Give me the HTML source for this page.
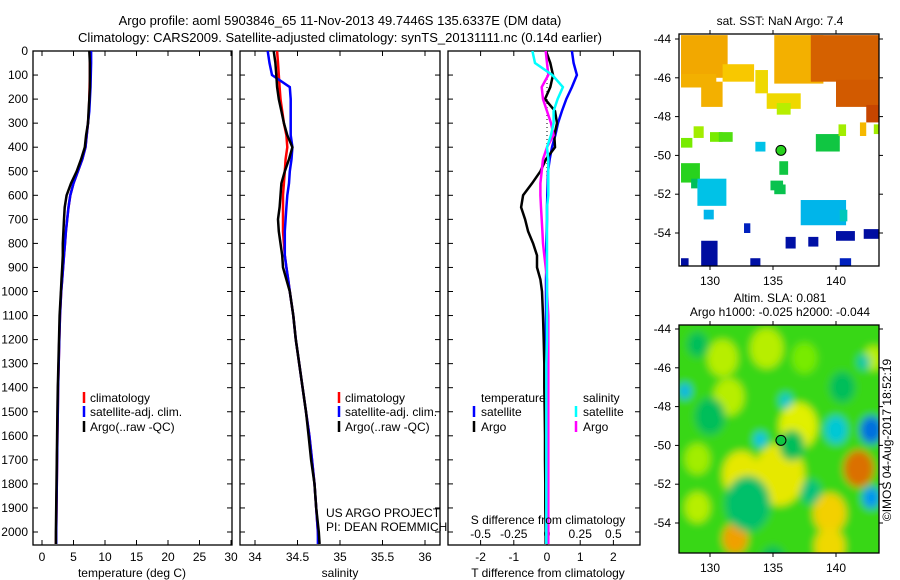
<!DOCTYPE html>
<html><head><meta charset="utf-8"><style>
body{margin:0;background:#fff;}
svg{display:block;font-family:"Liberation Sans",sans-serif;}
text{font-size:12px;fill:#000;}
</style></head><body>
<svg id="fig" width="900" height="580" viewBox="0 0 900 580" xmlns="http://www.w3.org/2000/svg">
<defs>
<clipPath id="c1"><rect x="33" y="51" width="199" height="494"/></clipPath>
<clipPath id="c2"><rect x="240" y="51" width="200" height="494"/></clipPath>
<clipPath id="c3"><rect x="448" y="51" width="192" height="494"/></clipPath>
<clipPath id="cm1"><rect x="679" y="34" width="200" height="232"/></clipPath>
<clipPath id="cm2"><rect x="679" y="325" width="200" height="228"/></clipPath>
<filter id="blur" x="-20%" y="-20%" width="140%" height="140%"><feGaussianBlur stdDeviation="4"/></filter>
</defs>
<text x="340" y="25" text-anchor="middle" style="font-size:13px">Argo profile: aoml 5903846_65 11-Nov-2013 49.7446S 135.6337E (DM data)</text>
<text x="340" y="42" text-anchor="middle" style="font-size:13px">Climatology: CARS2009. Satellite-adjusted climatology: synTS_20131111.nc (0.14d earlier)</text>
<g id="g1"></g>
<g id="g2"></g>
<g id="g3"></g>
<g id="m1"></g>
<g id="m2"></g>
<text x="780" y="25" text-anchor="middle">sat. SST: NaN Argo: 7.4</text>
<text x="780" y="302" text-anchor="middle">Altim. SLA: 0.081</text>
<text x="780" y="316" text-anchor="middle">Argo h1000: -0.025 h2000: -0.044</text>
<text transform="translate(891,440) rotate(-90)" text-anchor="middle">©IMOS 04-Aug-2017 18:52:19</text>
<text x="326" y="517">US ARGO PROJECT</text>
<text x="326" y="531">PI: DEAN ROEMMICH</text>
</svg>
<script>
// ---------- data ----------
const depthTicks=[0,100,200,300,400,500,600,700,800,900,1000,1100,1200,1300,1400,1500,1600,1700,1800,1900,2000];
const tempTicks=[0,5,10,15,20,25,30];
const salTicks=[34,34.5,35,35.5,36];
const tdiffTicks=[-2,-1,0,1,2];
const sdiffTicks=[-0.5,-0.25,0,0.25,0.5];
const sdiffTickLabels=["-0.5","-0.25","0","0.25","0.5"];
const profDepth=[0,50,100,150,200,250,300,350,400,450,500,550,600,650,700,750,800,850,900,950,1000,1100,1200,1300,1400,1500,1600,1700,1800,1900,2000,2050];
const tempClim=[7.6,7.6,7.6,7.55,7.5,7.45,7.3,7.1,6.9,6.4,5.7,5.0,4.5,4.2,4.0,3.8,3.65,3.5,3.35,3.2,3.05,2.85,2.75,2.65,2.55,2.5,2.45,2.4,2.35,2.3,2.25,2.2];
const tempSat=[7.8,7.8,7.75,7.7,7.6,7.5,7.3,7.1,6.9,6.4,5.7,5.0,4.5,4.2,4.0,3.8,3.65,3.5,3.35,3.2,3.05,2.85,2.75,2.65,2.55,2.5,2.45,2.4,2.35,2.3,2.25,2.25];
const tempArgo=[7.5,7.6,7.6,7.6,7.5,7.4,7.3,7.0,6.8,6.2,5.5,4.6,3.9,3.6,3.5,3.4,3.3,3.3,3.2,3.1,3.0,2.8,2.7,2.6,2.5,2.45,2.4,2.35,2.3,2.25,2.2,2.2];
const salClim=[34.26,34.27,34.28,34.29,34.3,34.32,34.34,34.37,34.38,34.36,34.35,34.34,34.33,34.33,34.33,34.33,34.34,34.35,34.37,34.39,34.41,34.45,34.48,34.52,34.56,34.6,34.64,34.67,34.7,34.72,34.74,34.75];
const salSat=[34.15,34.17,34.2,34.41,34.42,34.42,34.42,34.42,34.44,34.43,34.41,34.4,34.38,34.37,34.36,34.35,34.35,34.35,34.37,34.39,34.41,34.45,34.48,34.52,34.56,34.6,34.64,34.67,34.7,34.72,34.74,34.74];
const salArgo=[34.22,34.24,34.25,34.26,34.28,34.31,34.34,34.38,34.44,34.4,34.35,34.31,34.3,34.29,34.27,34.28,34.3,34.32,34.33,34.37,34.41,34.45,34.48,34.52,34.56,34.6,34.63,34.66,34.7,34.72,34.75,34.76];
const tdiffSat=[0.75,0.8,0.9,0.75,0.58,0.45,0.33,0.25,0.15,0.08,0.03,0.02,0.01,0.0,0.0,-0.01,-0.02,-0.02,-0.02,-0.03,-0.03,-0.03,-0.04,-0.04,-0.04,-0.04,-0.04,-0.04,-0.04,-0.04,-0.04,-0.04];
const tdiffArgo=[-0.03,0.1,0.18,0.1,-0.06,0.24,0.3,0.22,0.24,-0.03,-0.2,-0.45,-0.72,-0.78,-0.66,-0.57,-0.42,-0.3,-0.3,-0.2,-0.15,-0.12,-0.1,-0.08,-0.08,-0.07,-0.06,-0.06,-0.05,-0.05,-0.04,-0.04];
const sdiffSat=[-0.11,-0.09,0.04,0.12,0.08,0.05,0.05,0.03,0.0,0.01,0.01,0.01,0.01,0.0,0.0,0.0,0.0,0.0,0.0,0.0,0.0,0.0,0.0,-0.005,-0.005,-0.005,-0.005,-0.005,-0.005,-0.005,-0.005,-0.005];
const sdiffArgo=[-0.01,0.0,0.01,-0.04,-0.03,0.0,0.03,0.05,0.0,-0.03,-0.04,-0.05,-0.05,-0.045,-0.04,-0.035,-0.03,-0.02,-0.01,0.0,0.0,0.01,0.01,0.01,0.01,0.01,0.01,0.01,0.01,0.01,0.01,0.01];
// SST map blocks: lonMin, lonMax, latMax, latMin, value (0..1 colour scale)
const sstLon0=[127.7,127.7,129.3,131.0,133.6,135.1,134.5,135.3,138.0,140.0,142.4,141.9,143.0,128.7,127.7,130.0,130.7,133.6,135.5,134.8,138.4,140.2,127.7,129.0,129.5,135.1,128.5,132.7,136.0,137.2,140.3,129.3,133.2,140.0,142.2,127.7,140.3,137.8];
const sstLon1=[131.4,130.5,131.0,133.5,134.6,139.0,137.2,136.4,143.4,143.4,143.4,142.4,143.4,129.5,128.6,131.0,131.8,134.4,136.2,135.8,140.3,140.8,129.2,131.3,130.3,136.0,129.0,133.2,136.8,140.8,140.9,130.6,134.0,141.5,143.4,128.3,141.2,138.6];
const sstLat0=[-43.8,-45.8,-46.2,-45.3,-45.6,-43.8,-46.8,-47.3,-43.8,-46.1,-47.4,-48.3,-48.4,-48.5,-49.1,-48.8,-48.8,-49.3,-50.3,-51.3,-48.9,-48.4,-50.4,-51.2,-52.8,-51.5,-51.2,-53.5,-54.2,-52.3,-52.8,-54.4,-55.3,-53.9,-53.8,-55.3,-55.3,-54.2];
const sstLat1=[-46.0,-46.5,-47.5,-46.2,-46.8,-46.3,-47.6,-47.9,-46.2,-47.5,-48.3,-49.0,-48.9,-49.1,-49.6,-49.3,-49.3,-49.8,-51.0,-51.8,-49.8,-49.0,-51.4,-52.6,-53.3,-52.0,-51.7,-54.0,-54.8,-53.6,-53.4,-55.7,-55.7,-54.4,-54.3,-55.7,-55.7,-54.7];
const sstVal=[0.74,0.73,0.73,0.7,0.68,0.73,0.68,0.63,0.84,0.85,0.88,0.72,0.62,0.62,0.6,0.6,0.55,0.32,0.47,0.46,0.47,0.62,0.5,0.32,0.3,0.46,0.45,0.1,0.05,0.3,0.38,0.04,0.05,0.05,0.04,0.04,0.1,0.05];
// SLA map blobs: lon, lat, radius (deg), value (0..1 colour scale)
const slaLon=[131,134.5,137.5,131.5,137,135.5,132.5,139.5,132,141.8,129,139.5,143,129,130,133,136.5,140.5,138,129,135,134,136,128,140,142.8,142.8,142.2];
const slaLat=[-45.5,-45,-45.5,-47.5,-49,-51.5,-51.5,-53.5,-54.8,-51.2,-53.2,-55.2,-45.5,-50.7,-48.5,-53,-50,-47,-52.4,-44.8,-56,-49.7,-47.7,-47.2,-49.2,-49.2,-52.7,-45.7];
const slaR=[1.2,1.3,1.0,1.2,1.5,2.0,1.5,1.3,1.0,1.2,1.0,1.2,0.8,1.0,1.2,1.8,1.0,1.0,0.8,0.8,1.0,0.5,0.5,0.5,0.9,0.9,0.7,0.5];
const slaVal=[0.63,0.63,0.6,0.63,0.65,0.66,0.66,0.69,0.75,0.82,0.63,0.68,0.63,0.62,0.45,0.44,0.45,0.45,0.43,0.45,0.45,0.32,0.36,0.3,0.35,0.2,0.25,0.4];
const mapLonTicks=[130,135,140];
const mapLatTicks=[-44,-46,-48,-50,-52,-54];
const floatLon=135.63, floatLat=-49.74;
const floatSST=0.5, floatSLA=0.47;

// ---------- helpers ----------
const NS="http://www.w3.org/2000/svg";
function mk(tag,attrs,parent){const e=document.createElementNS(NS,tag);for(const k in attrs)e.setAttribute(k,attrs[k]);parent.appendChild(e);return e;}
const yD=d=>51+d*0.2405;
const xT=v=>42+v*6.3;
const xS=v=>255+(v-34)*85;
const xTD=v=>547+v*33.2;
const xSD=v=>547+v*132.8;
function panel(g,x0,w,ticksX,fx,labelsX,leftLabels){
  const r=mk('rect',{x:x0,y:51,width:w,height:494,fill:'none',stroke:'#000','stroke-width':1.3},g);
  
  
  ticksX.forEach((t,i)=>{const x=fx(t);
    mk('line',{x1:x,x2:x,y1:51,y2:56,stroke:'#000'},g);
    mk('line',{x1:x,x2:x,y1:545,y2:540,stroke:'#000'},g);
    const tx=mk('text',{x:x,y:561,'text-anchor':'middle'},g);tx.textContent=labelsX?labelsX[i]:String(t);
    
    
  });
  depthTicks.forEach(d=>{const y=yD(d);
    mk('line',{x1:x0,x2:x0+5,y1:y,y2:y,stroke:'#000'},g);
    mk('line',{x1:x0+w,x2:x0+w-5,y1:y,y2:y,stroke:'#000'},g);
    if(leftLabels){const t=mk('text',{x:28,y:y+4,'text-anchor':'end'},g);t.textContent=d;
      
      }
  });
}
function line(g,vals,fx,color,clip,w,name){
  const pts=vals.map((v,i)=>fx(v).toFixed(1)+','+yD(profDepth[i]).toFixed(1)).join(' ');
  const p=mk('polyline',{points:pts,fill:'none',stroke:color,'stroke-width':w||2.5,'clip-path':'url(#'+clip+')'},g);
  
  
}
function txt(g,x,y,s,name,anchor){const t=mk('text',{x:x,y:y,'text-anchor':anchor||'start'},g);t.textContent=s;
  
  return t;}
function legMark(g,x,y,color){mk('line',{x1:x,x2:x,y1:y-10,y2:y+1,stroke:color,'stroke-width':2.5},g);}

// ---------- panel 1 ----------
const g1=document.getElementById('g1');
panel(g1,33,199,tempTicks,xT,null,true);
line(g1,tempClim,xT,'#f00','c1',2.5,'temp-climatology-line');
line(g1,tempSat,xT,'#00f','c1',2.5,'temp-satellite-line');
line(g1,tempArgo,xT,'#000','c1',2.5,'temp-argo-line');
txt(g1,132,577,'temperature (deg C)','x-axis-title','middle');
legMark(g1,84,402,'#f00');txt(g1,90,402,'climatology','legend-climatology');
legMark(g1,84,416,'#00f');txt(g1,90,416,'satellite-adj. clim.','legend-satellite');
legMark(g1,84,431,'#000');txt(g1,90,431,'Argo(..raw -QC)','legend-argo');

// ---------- panel 2 ----------
const g2=document.getElementById('g2');
panel(g2,240,200,salTicks,xS,null,false);
line(g2,salClim,xS,'#f00','c2',2.5,'sal-climatology-line');
line(g2,salSat,xS,'#00f','c2',2.5,'sal-satellite-line');
line(g2,salArgo,xS,'#000','c2',2.5,'sal-argo-line');
txt(g2,340,577,'salinity','x-axis-title','middle');
legMark(g2,339,402,'#f00');txt(g2,345,402,'climatology','legend-climatology');
legMark(g2,339,416,'#00f');txt(g2,345,416,'satellite-adj. clim.','legend-satellite');
legMark(g2,339,431,'#000');txt(g2,345,431,'Argo(..raw -QC)','legend-argo');

// ---------- panel 3 ----------
const g3=document.getElementById('g3');
panel(g3,448,192,tdiffTicks,xTD,null,false);
sdiffTicks.forEach((t,i)=>{txt(g3,xSD(t),538,sdiffTickLabels[i],'s-diff-tick-label','middle');});
mk('line',{x1:547,x2:547,y1:51,y2:545,stroke:'#000','stroke-dasharray':'1,3'},g3);
line(g3,tdiffSat,xTD,'#00f','c3',2.5,'tdiff-satellite-line');
line(g3,tdiffArgo,xTD,'#000','c3',2.5,'tdiff-argo-line');
line(g3,sdiffArgo,xSD,'#f0f','c3',2.5,'sdiff-argo-line');
line(g3,sdiffSat,xSD,'#0ff','c3',2.5,'sdiff-satellite-line');
txt(g3,548,577,'T difference from climatology','x-axis-title','middle');
txt(g3,548,524,'S difference from climatology','s-diff-axis-title','middle');
txt(g3,481,402,'temperature','legend-temperature-header');
legMark(g3,474,416,'#00f');txt(g3,481,416,'satellite','legend-t-satellite');
legMark(g3,474,431,'#000');txt(g3,481,431,'Argo','legend-t-argo');
txt(g3,583,402,'salinity','legend-salinity-header');
legMark(g3,576,416,'#0ff');txt(g3,583,416,'satellite','legend-s-satellite');
legMark(g3,576,431,'#f0f');txt(g3,583,431,'Argo','legend-s-argo');

// ---------- maps ----------
const palStops=[0,0.1,0.25,0.33,0.4,0.45,0.5,0.6,0.65,0.7,0.75,0.85,0.95,1];
const palCols=[[0,0,140],[0,32,190],[0,150,240],[0,200,230],[0,200,170],[0,190,90],[40,210,30],[120,235,0],[225,240,0],[248,200,0],[240,160,0],[210,90,0],[170,20,0],[140,0,0]];
function jet(v){
  for(let i=1;i<palStops.length;i++){if(v<=palStops[i]){const t=(v-palStops[i-1])/(palStops[i]-palStops[i-1]);
    const c=palCols[i-1].map((a,k)=>Math.round(a+(palCols[i][k]-a)*t));return 'rgb('+c.join(',')+')';}}
  return 'rgb(140,0,0)';
}
function mapFrame(g,top,h,lat0){
  const mx=lon=>710+(lon-130)*12.6;
  const my=lat=>lat0+(-44-lat)*19.4;
  return {mx,my,finish(){
    const r=mk('rect',{x:679,y:top,width:200,height:h,fill:'none',stroke:'#000','stroke-width':1.3},g);
    
    
    mapLonTicks.forEach(l=>{const x=mx(l);mk('line',{x1:x,x2:x,y1:top,y2:top-4,stroke:'#000'},g);mk('line',{x1:x,x2:x,y1:top+h,y2:top+h+4,stroke:'#000'},g);
      txt(g,x,top+h+19,String(l),'lon-tick-label','middle');});
    mapLatTicks.forEach(l=>{const y=my(l);mk('line',{x1:679,x2:675,y1:y,y2:y,stroke:'#000'},g);mk('line',{x1:879,x2:883,y1:y,y2:y,stroke:'#000'},g);
      txt(g,671,y+4,String(l),'lat-tick-label','end');});
  }};
}
const m1=document.getElementById('m1');
const f1=mapFrame(m1,34,232,39);
const gm1=mk('g',{'clip-path':'url(#cm1)'},m1);
sstVal.forEach((v,i)=>{
  const x=f1.mx(sstLon0[i]),x2=f1.mx(sstLon1[i]),y=f1.my(sstLat0[i]),y2=f1.my(sstLat1[i]);
  const r=mk('rect',{x:x,y:y,width:x2-x,height:y2-y,fill:jet(v)},gm1);
  
  
});
const d1=mk('circle',{cx:f1.mx(floatLon),cy:f1.my(floatLat),r:5,fill:jet(floatSST),stroke:'#000','stroke-width':1},m1);


f1.finish();

const m2=document.getElementById('m2');
const f2=mapFrame(m2,325,228,329);
const gm2=mk('g',{'clip-path':'url(#cm2)'},m2);
mk('rect',{x:679,y:325,width:200,height:228,fill:jet(0.52)},gm2);
const gb=mk('g',{filter:'url(#blur)'},gm2);
mk('rect',{x:670,y:315,width:220,height:250,fill:jet(0.52)},gb);
slaVal.forEach((v,i)=>{
  const c=mk('ellipse',{cx:f2.mx(slaLon[i]),cy:f2.my(slaLat[i]),rx:slaR[i]*12.6,ry:slaR[i]*15.5,fill:jet(v)},gb);
  
  
});
const d2=mk('circle',{cx:f2.mx(floatLon),cy:f2.my(floatLat),r:5,fill:jet(floatSLA),stroke:'#000','stroke-width':1},m2);


f2.finish();
</script>
</body></html>
